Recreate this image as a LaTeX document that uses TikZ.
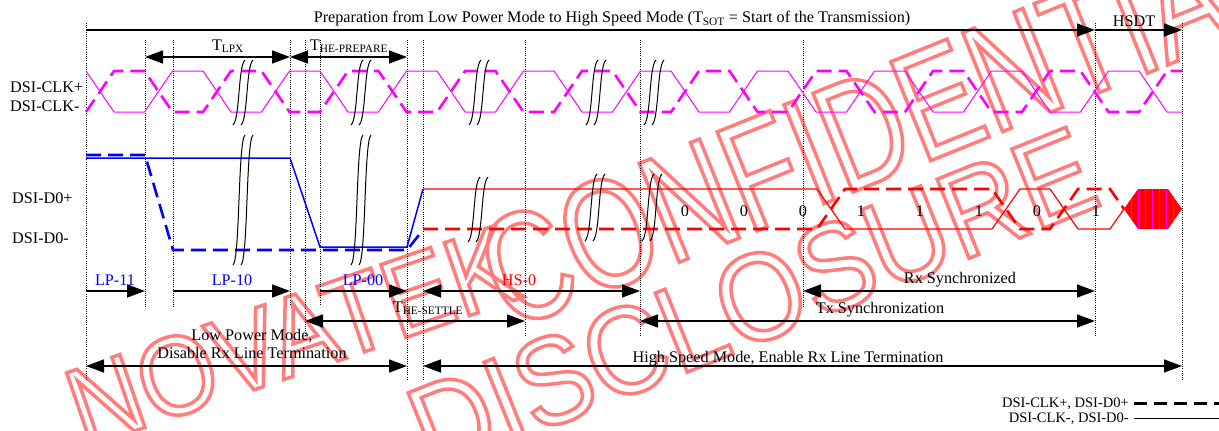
\documentclass[tikz,border=0pt]{standalone}
\usepackage{fontspec}
\setmainfont{Liberation Serif}
\newfontfamily\wmA[FakeStretch=0.9]{Liberation Sans}
\newfontfamily\wmB[FakeStretch=0.75]{Liberation Sans}
\newfontfamily\wmC[FakeStretch=0.9]{Liberation Sans}
\usetikzlibrary{arrows.meta}
\definecolor{clkmag}{RGB}{255,0,255}
\definecolor{lpblue}{RGB}{0,0,255}
\definecolor{hsred}{RGB}{255,0,0}
\definecolor{wmred}{RGB}{255,125,125}
\newcommand\wmtext[1]{\special{pdf:literal direct 1 Tr 3.5 w}#1\special{pdf:literal direct 0 Tr}}
\newcommand\tdbreak[3]{%
  \foreach \d in {-4,4}{%
    \draw[brkline] ({#1+\d-6},#3) .. controls ({#1+\d+1},{#3-6}) and ({#1+\d-1},{#2+6}) .. ({#1+\d+6},#2);
  }}
\begin{document}
\begin{tikzpicture}[x=1pt,y=-1pt,
  lbl/.style={font=\fontsize{16.2}{19}\selectfont, inner sep=0pt, anchor=base},
  leg/.style={font=\fontsize{14.5}{17}\selectfont, inner sep=0pt},
  wm/.style={text=wmred, inner sep=0pt},
  guide/.style={black, line width=0.9pt, dash pattern=on 1pt off 1.2pt},
  tip/.tip={Triangle[length=18pt,width=13pt]},
  dimR/.style={black, line width=1.4pt, -tip},
  dimLR/.style={black, line width=1.4pt, tip-tip},
  clksolid/.style={clkmag, line width=1pt, line join=round},
  clkdash/.style={clkmag, line width=2.6pt, dash pattern=on 15pt off 7pt},
  lpsolid/.style={lpblue, line width=1.5pt},
  lpdash/.style={lpblue, line width=2.6pt, dash pattern=on 15pt off 7pt},
  hssolid/.style={hsred, line width=1.2pt},
  hsdash/.style={hsred, line width=2.6pt, dash pattern=on 15pt off 7pt},
  brkline/.style={black, line width=1pt}
]
\useasboundingbox (0,0) rectangle (1219,431);
\fill[white] (0,0) rectangle (1219,431);
\clip (0,0) rectangle (1219,431);

% watermark
\node[wm, font=\wmA\fontsize{112}{112}\selectfont, rotate=19] (wm1) at (292,336) {\wmtext{NOVATEK}};
\node[wm, font=\wmB\fontsize{155}{155}\selectfont, rotate=22] (wm2) at (884,122) {\wmtext{CONFIDENTIAL}};
\node[wm, font=\wmC\fontsize{124}{124}\selectfont, rotate=22] (wm3) at (752,300) {\wmtext{DISCLOSURE}};

% guide coordinates
\foreach \x in {86,145,173,290,305,320,407,423,525,640,803,1095,1182}
  \coordinate (x\x) at (\x,0);
\coordinate (rTop) at (0,30);
\coordinate (rT) at (0,57);
\coordinate (rA) at (0,291);
\coordinate (rB) at (0,321);
\coordinate (rC) at (0,366);

% dotted guides
\foreach \x/\a/\b in {86/23/380,145/40/307,173/40/307,290/40/305,305/40/337,320/40/305,407/40/380,423/40/380,525/40/337,640/40/337,803/40/307,1095/23/337,1182/23/380}
  \draw[guide] (\x,\a) -- (\x,\b);

% top arrows and labels
\draw[dimR] (x86 |- rTop) -- (x1095 |- rTop);
\draw[dimR] (x1095 |- rTop) -- (x1182 |- rTop);
\node[lbl] (title) at (612,23) {Preparation from Low Power Mode to High Speed Mode (T\textsubscript{SOT} = Start of the Transmission)};
\node[lbl] (hsdt) at (1134,27) {HSDT};
\draw[dimLR] (x145 |- rT) -- (x290 |- rT);
\draw[dimLR] (x290 |- rT) -- (x407 |- rT);
\node[lbl] (tlpx) at (228,50) {T\textsubscript{LPX}};
\node[lbl] (tprep) at (349,50) {T\textsubscript{HE-PREPARE}};

% signal names
\node[lbl, anchor=base west] (clkp) at (10,92) {DSI-CLK+};
\node[lbl, anchor=base west] (clkn) at (10,111) {DSI-CLK-};
\node[lbl, anchor=base west] (d0p) at (12,203) {DSI-D0+};
\node[lbl, anchor=base west] (d0n) at (12,243) {DSI-D0-};

% clock
\draw[clksolid] (86,71) \foreach \k in {0,...,18}{ -- ({86+58.5*\k},{iseven(\k)?71:112}) -- ({114+58.5*\k},{iseven(\k)?112:71}) } -- (1182,112);
\draw[clkdash] (86,112) \foreach \k in {0,...,18}{ -- ({86+58.5*\k},{iseven(\k)?112:71}) -- ({114+58.5*\k},{iseven(\k)?71:112}) } -- (1182,71);

% data lane, low power part
\draw[lpdash] (86,155) -- (145,155) -- (173,250) -- (407,250) -- (423,230);
\draw[lpsolid] (86,158) -- (290,158) -- (320,247) -- (407,247) -- (423,189);
% data lane, high speed part
\draw[hsdash] (423,229) -- (817,229) -- (845,189) -- (992,189) -- (1020,229) -- (1050,229) -- (1078,189) -- (1110,189) -- (1124,209);
\draw[hssolid] (423,189) -- (817,189) -- (845,229) -- (992,229) -- (1020,189) -- (1050,189) -- (1078,229) -- (1110,229) -- (1124,209);
\begin{scope}
  \clip (1124,209) -- (1138,189) -- (1168,189) -- (1182,209) -- (1168,229) -- (1138,229) -- cycle;
  \fill[hsred] (1120,185) rectangle (1186,233);
  \foreach \x in {1131,1138,1145,1152,1159,1166,1173}
    \draw[clkmag, line width=0.7pt] (\x,185) -- (\x,233);
\end{scope}

\foreach \x/\b in {685/0,744/0,803/0,861/1,920/1,979/1,1037/0,1096/1}
  \node[lbl] (bit\x) at (\x,216) {\b};

% break marks
\foreach \x in {243,361,479,596,654} \tdbreak{\x}{60}{125};
\tdbreak{243}{135}{265}
\tdbreak{361}{135}{265}
\tdbreak{478}{177}{242}
\tdbreak{595}{174}{241}
\tdbreak{652}{174}{241}

% state labels
\node[lbl, text=lpblue] (lp11) at (115,285) {LP-11};
\node[lbl, text=lpblue] (lp10) at (232,285) {LP-10};
\node[lbl, text=lpblue] (lp00) at (363,285) {LP-00};
\node[lbl, text=hsred] (hs0) at (519,285) {HS-0};
\node[lbl] (rxs) at (960,283) {Rx Synchronized};
\node[lbl] (txs) at (880,313) {Tx Synchronization};
\node[lbl] (tsettle) at (428,312) {T\textsubscript{HE-SETTLE}};
\node[lbl] (lpm1) at (252,340) {Low Power Mode,};
\node[lbl] (lpm2) at (252,358) {Disable Rx Line Termination};
\node[lbl] (hsm) at (788,362) {High Speed Mode, Enable Rx Line Termination};

% bottom arrows
\draw[dimR] (x86 |- rA) -- (x145 |- rA);
\draw[dimR] (x173 |- rA) -- (x290 |- rA);
\draw[dimR] (x320 |- rA) -- (x407 |- rA);
\draw[dimLR] (x423 |- rA) -- (x640 |- rA);
\draw[dimLR] (x803 |- rA) -- (x1095 |- rA);
\draw[dimLR] (x305 |- rB) -- (x525 |- rB);
\draw[dimLR] (x640 |- rB) -- (x1095 |- rB);
\draw[dimLR] (x86 |- rC) -- (x407 |- rC);
\draw[dimLR] (x423 |- rC) -- (x1182 |- rC);

% legend
\node[leg, anchor=base east] (legA) at (1129,407) {DSI-CLK+, DSI-D0+};
\node[leg, anchor=base east] (legB) at (1129,422) {DSI-CLK-, DSI-D0-};
\draw[black, line width=2.6pt, dash pattern=on 13pt off 7pt] ([xshift=5pt]legA.east) -- ++(85,0);
\draw[black, line width=1.2pt] ([xshift=5pt]legB.east) -- ++(85,0);
\end{tikzpicture}
\end{document}
